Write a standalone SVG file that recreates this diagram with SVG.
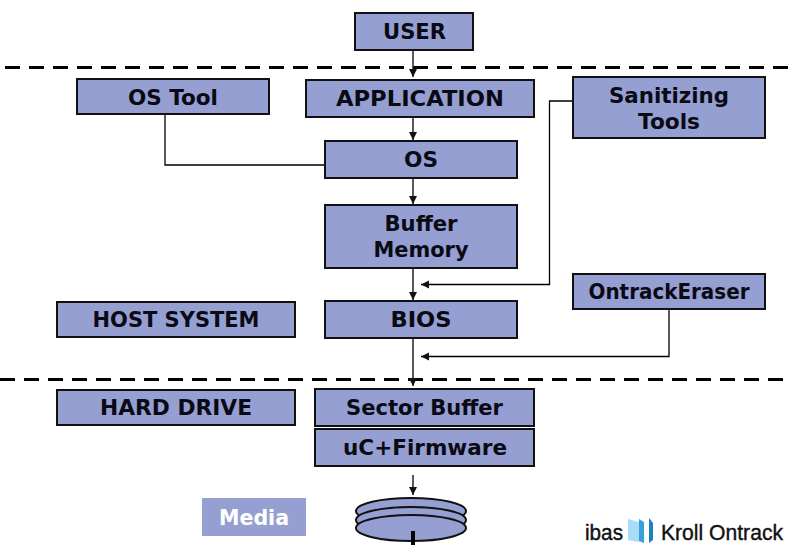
<svg xmlns="http://www.w3.org/2000/svg" width="791" height="545" viewBox="0 0 791 545">
<style>
.n{fill:#959fd1;stroke:#111;stroke-width:2}
.d{fill:#959fd1;stroke:#111;stroke-width:2}
text{font-family:"DejaVu Sans",Verdana,sans-serif;font-weight:700;font-size:21px;fill:#0a0a14;text-anchor:middle}
.c{fill:none;stroke:#222;stroke-width:1.5}
.k{fill:none;stroke:#000;stroke-width:1.3}
.s{fill:none;stroke:#000;stroke-width:3;stroke-dasharray:15 9}
text.logo{font-family:"Liberation Sans Narrow","Liberation Sans",Arial,sans-serif;font-weight:400;font-size:22px;fill:#111;stroke:#111;stroke-width:.4;text-anchor:start}
</style>
<defs>
<marker id="a" markerUnits="userSpaceOnUse" markerWidth="9" markerHeight="9" refX="8" refY="4" orient="auto"><path d="M0 0L8 4L0 8Z" fill="#111"/></marker>
</defs>
<g id="connectors">
<path class="s" d="M5 67.500H791"/>
<path class="s" d="M0 379.500H791"/>
<path class="c" marker-end="url(#a)" d="M413 50V77"/>
<path class="c" marker-end="url(#a)" d="M413 117V140"/>
<path class="k" d="M165 114V165H325"/>
<path class="c" marker-end="url(#a)" d="M413 178V204"/>
<path class="c" marker-end="url(#a)" d="M413 268V300"/>
<path class="k" marker-end="url(#a)" d="M573 101H549.500V284.500H421"/>
<path class="c" marker-end="url(#a)" d="M413 338V386"/>
<path class="k" marker-end="url(#a)" d="M669 309V356.500H421"/>
<path class="c" marker-end="url(#a)" d="M413 475V495"/>
</g>
<g id="user"><rect class="n" x="355" y="13" width="118" height="37"/><text x="414.500" y="39" textLength="63" lengthAdjust="spacingAndGlyphs">USER</text></g>
<g id="ostool"><rect class="n" x="77" y="79" width="192" height="35"/><text x="173" y="105" textLength="90" lengthAdjust="spacingAndGlyphs">OS Tool</text></g>
<g id="application"><rect class="n" x="306" y="80" width="228" height="37"/><text x="420" y="106" textLength="168" lengthAdjust="spacingAndGlyphs">APPLICATION</text></g>
<g id="sanitizing"><rect class="n" x="573" y="77" width="192" height="61"/><text x="669" y="103" textLength="120" lengthAdjust="spacingAndGlyphs">Sanitizing</text><text x="669" y="129" textLength="62" lengthAdjust="spacingAndGlyphs">Tools</text></g>
<g id="os"><rect class="n" x="325" y="141" width="192" height="37"/><text x="421" y="167" textLength="34" lengthAdjust="spacingAndGlyphs">OS</text></g>
<g id="buffer"><rect class="n" x="325" y="205" width="192" height="63"/><text x="421" y="231" textLength="73" lengthAdjust="spacingAndGlyphs">Buffer</text><text x="421" y="257" textLength="95" lengthAdjust="spacingAndGlyphs">Memory</text></g>
<g id="ontrackeraser"><rect class="n" x="573" y="274" width="192" height="35"/><text x="669" y="299" textLength="161" lengthAdjust="spacingAndGlyphs">OntrackEraser</text></g>
<g id="host"><rect class="n" x="57" y="302" width="238" height="35"/><text x="176" y="327" textLength="167" lengthAdjust="spacingAndGlyphs">HOST SYSTEM</text></g>
<g id="bios"><rect class="n" x="325" y="301" width="192" height="37"/><text x="421" y="327" textLength="61" lengthAdjust="spacingAndGlyphs">BIOS</text></g>
<g id="harddrive"><rect class="n" x="57" y="390" width="238" height="35"/><text x="176" y="415" textLength="152" lengthAdjust="spacingAndGlyphs">HARD DRIVE</text></g>
<g id="sector"><rect class="n" x="315" y="389" width="219" height="37"/><text x="424.500" y="415" textLength="157" lengthAdjust="spacingAndGlyphs">Sector Buffer</text></g>
<g id="firmware"><rect class="n" x="315" y="429" width="219" height="37"/><text x="425" y="455" textLength="164" lengthAdjust="spacingAndGlyphs">uC+Firmware</text></g>
<g id="media"><rect x="202" y="498" width="104" height="38" fill="#959fd1"/><text x="254" y="525" textLength="70" lengthAdjust="spacingAndGlyphs" style="fill:#fff">Media</text></g>
<g id="disk">
<ellipse class="d" cx="411" cy="511" rx="55" ry="13"/>
<ellipse class="d" cx="411" cy="520" rx="55" ry="13"/>
<ellipse class="d" cx="411" cy="528" rx="55" ry="13"/>
<path d="M413 531V545" stroke="#000" stroke-width="4" fill="none"/>
</g>
<g id="logo">
<text class="logo" x="585" y="539.500" textLength="38" lengthAdjust="spacingAndGlyphs">ibas</text>
<path d="M628 519L639 522V542L628 540Z" fill="#a8dcf8"/>
<path d="M639 519L644 522V543L639 541Z" fill="#3aa0dc"/>
<path d="M649 518L653 523V540L649 543Z" fill="#1f7fc4"/>
<text class="logo" x="661" y="539.500" textLength="122" lengthAdjust="spacingAndGlyphs">Kroll Ontrack</text>
</g>
</svg>
